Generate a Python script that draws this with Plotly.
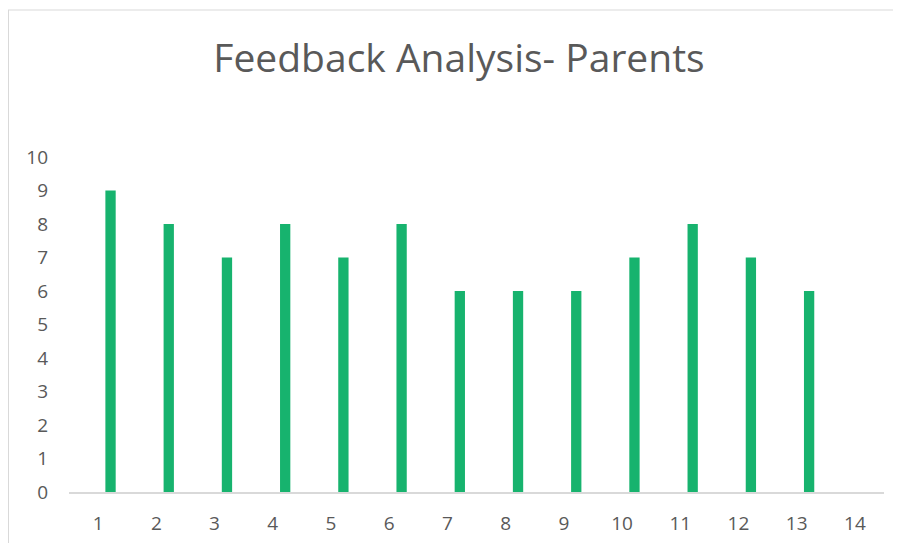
import plotly.graph_objects as go

categories = list(range(1, 15))
tick_labels = [str(c) for c in categories]
values = [9, 8, 7, 8, 7, 8, 6, 6, 6, 7, 8, 7, 6, None]

# page body has an 8px margin, so the figure is drawn 8px smaller
OFF = 8
W, H = 901 - OFF, 543 - OFF
L, R, T, B = 69 - OFF, 884 - OFF, 157 - OFF, 492 - OFF

def px_x(px):
    return (px - OFF - L) / (R - L)

def px_y(py):
    return (B - (py - OFF)) / (B - T)

fig = go.Figure()
fig.add_trace(go.Bar(
    x=categories, y=values,
    width=0.177, offset=0.125,
    marker=dict(color="#17B36E", line=dict(width=0)),
    hoverinfo="x+y",
))

font_family = "Open Sans, Liberation Sans, sans-serif"
fig.update_layout(
    width=W, height=H,
    margin=dict(l=L, r=W - R, t=T, b=H - B, autoexpand=False),
    paper_bgcolor="white", plot_bgcolor="white",
    showlegend=False,
    title=dict(text="Feedback Analysis- Parents",
               x=(459 - OFF) / W, xanchor="center",
               y=1 - (58 - OFF) / H, yanchor="middle",
               font=dict(family=font_family, size=39, color="#595959")),
    font=dict(family=font_family, color="#595959"),
    xaxis=dict(range=[0.5, 14.5], tickmode="array", tickvals=categories,
               ticktext=tick_labels, showgrid=False, zeroline=False,
               showline=True, linecolor="#D9D9D9", linewidth=1.5,
               ticks="", ticklabelstandoff=13, automargin=False,
               tickfont=dict(size=19, color="#595959", family=font_family),
               fixedrange=True),
    yaxis=dict(range=[0, 10], dtick=1, tick0=0, showgrid=False,
               zeroline=False, showline=False, ticks="",
               ticklabelstandoff=20, automargin=False,
               tickfont=dict(size=19, color="#595959", family=font_family),
               fixedrange=True),
    shapes=[
        dict(type="line", xref="paper", yref="paper",
             x0=px_x(8), x1=px_x(910), y0=px_y(10), y1=px_y(10),
             line=dict(color="#D9D9D9", width=1)),
        dict(type="line", xref="paper", yref="paper",
             x0=px_x(8.5), x1=px_x(8.5), y0=px_y(10), y1=px_y(550),
             line=dict(color="#D9D9D9", width=1)),
    ],
)

fig.write_html("out.html")
